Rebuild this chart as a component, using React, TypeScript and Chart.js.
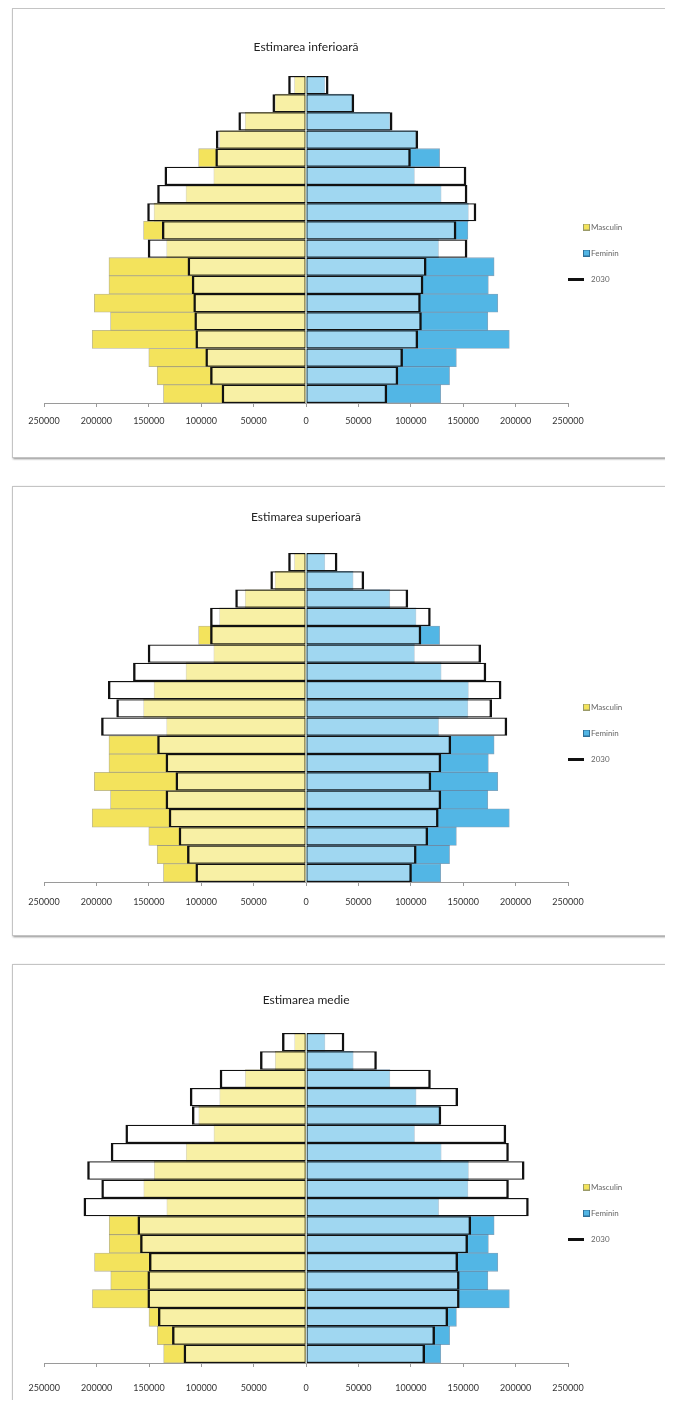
import React, { useEffect, useRef } from 'react';
import { Chart, registerables } from 'chart.js';

Chart.register(...registerables);

// ---------- DATA ----------
const AGE_GROUPS = ['85+', '80-84', '75-79', '70-74', '65-69', '60-64', '55-59', '50-54', '45-49', '40-44', '35-39', '30-34', '25-29', '20-24', '15-19', '10-14', '5-9', '0-4'];

const MASCULIN_BAZA = [11000, 29500, 58000, 82500, 102500, 88000, 114500, 145000, 155000, 133000, 188000, 188000, 202000, 186500, 204000, 150000, 142000, 136000];
const FEMININ_BAZA = [18000, 45000, 80000, 105000, 127500, 103500, 129000, 155000, 154500, 126500, 179500, 174000, 183000, 173500, 194000, 143500, 137000, 128500];

const MASCULIN_2030_INFERIOARA = [17000, 32000, 64500, 86000, 86500, 135000, 142000, 151500, 137500, 151000, 113000, 109000, 107500, 106500, 105500, 96000, 91500, 80500];
const FEMININ_2030_INFERIOARA = [21500, 46000, 82500, 107000, 100000, 153000, 154000, 162500, 143500, 154000, 115000, 112000, 109500, 110500, 107000, 92500, 88000, 77500];

const MASCULIN_2030_SUPERIOARA = [17000, 34000, 67500, 91500, 91500, 151000, 165000, 189000, 181000, 195500, 142000, 134000, 124500, 134000, 131000, 121500, 113500, 105500];
const FEMININ_2030_SUPERIOARA = [30000, 55500, 97500, 119000, 110000, 167000, 172000, 186500, 177500, 192000, 138500, 129000, 119500, 129000, 126500, 116500, 105500, 101000];

const MASCULIN_2030_MEDIE = [23000, 44000, 82500, 111000, 109000, 172500, 186500, 209000, 195500, 212500, 161000, 158500, 150000, 151500, 151500, 141500, 128000, 117000];
const FEMININ_2030_MEDIE = [36500, 67500, 119000, 145000, 129000, 191000, 193500, 208500, 193500, 212500, 157500, 154500, 145000, 146500, 146500, 135500, 123000, 113500];

const X_TICK_VALUES = [-250000, -200000, -150000, -100000, -50000, 0, 50000, 100000, 150000, 200000, 250000];
const LEGEND_LABELS = ['Masculin', 'Feminin', '2030'];

// ---------- STYLE / LAYOUT ----------
const FONT = 'Lato, "Open Sans", "DejaVu Sans", sans-serif';
const YELLOW = '#f3e35c';
const BLUE = '#52b6e5';
const CANVAS_W = 654;
const CANVAS_H = 448;
const PLOT_LEFT = 31;
const PLOT_RIGHT = 555;
const LEGEND_FONT = 8;
const LEGEND_PAD = 18;
const TICK_FONT = 9;
const TICK_LEN = 4;
const TITLE_FONT = 12;

const PANELS = [
  { title: 'Estimarea inferioară', male: MASCULIN_2030_INFERIOARA, female: FEMININ_2030_INFERIOARA, titleY: 38, plotTop: 67, plotBottom: 394, labelY: 412, legendY: 218, marginTop: 0 },
  { title: 'Estimarea superioară', male: MASCULIN_2030_SUPERIOARA, female: FEMININ_2030_SUPERIOARA, titleY: 30, plotTop: 66, plotBottom: 395, labelY: 415, legendY: 220, marginTop: 28 },
  { title: 'Estimarea medie', male: MASCULIN_2030_MEDIE, female: FEMININ_2030_MEDIE, titleY: 35, plotTop: 68, plotBottom: 398, labelY: 423, legendY: 222, marginTop: 28 },
];

function makeSwatch(fill: string, stroke: string): HTMLCanvasElement {
  const c = document.createElement('canvas');
  c.width = 7;
  c.height = 7;
  const ctx = c.getContext('2d')!;
  ctx.fillStyle = fill;
  ctx.fillRect(0, 0, 7, 7);
  ctx.strokeStyle = stroke;
  ctx.lineWidth = 1;
  ctx.strokeRect(0.5, 0.5, 6, 6);
  return c;
}

function makeLineSwatch(): HTMLCanvasElement {
  const c = document.createElement('canvas');
  c.width = 51;
  c.height = 3;
  const ctx = c.getContext('2d')!;
  ctx.fillStyle = '#111';
  ctx.fillRect(0, 0, 23, 3);
  return c;
}

type PanelCfg = typeof PANELS[number];

function Pyramid({ cfg }: { cfg: PanelCfg }) {
  const ref = useRef<HTMLCanvasElement>(null);

  useEffect(() => {
    const canvas = ref.current;
    if (!canvas) return;

    const m = document.createElement('canvas').getContext('2d')!;
    m.font = `normal ${LEGEND_FONT}px ${FONT}`;
    const textW = Math.max(...LEGEND_LABELS.map((t) => m.measureText(t).width));
    const legendW = LEGEND_PAD + 1 + LEGEND_FONT / 2 + textW + 10;
    const padRight = CANVAS_W - PLOT_RIGHT - legendW;

    const tickPad = cfg.labelY - cfg.plotBottom - TICK_LEN - (TICK_FONT * 1.2) / 2;
    const axisH = TICK_LEN + TICK_FONT * 1.2 + 2 * tickPad;
    const padBottom = CANVAS_H - cfg.plotBottom - axisH;

    const titleLH = TITLE_FONT * 1.2;
    const titlePadTop = cfg.titleY - titleLH / 2;
    const titlePadBottom = cfg.plotTop - cfg.titleY - titleLH / 2;

    const legendBottom = CANVAS_H - padBottom;
    const colH = 3 * (LEGEND_FONT + LEGEND_PAD);
    const T = 2 * (cfg.legendY - LEGEND_FONT / 2) - LEGEND_PAD - legendBottom + colH;
    const legTitlePad = Math.max(0, T - LEGEND_FONT * 1.2);

    const swM = makeSwatch(YELLOW, '#9a9a6a');
    const swF = makeSwatch(BLUE, '#2f6f98');
    const swL = makeLineSwatch();

    const chart = new Chart(canvas, {
      type: 'bar',
      data: {
        labels: AGE_GROUPS,
        datasets: [
          {
            label: 'Masculin',
            data: MASCULIN_BAZA.map((v) => -v),
            backgroundColor: YELLOW,
            borderColor: 'rgba(120,115,70,0.55)',
            borderWidth: 0.8,
            grouped: false,
            order: 1,
            categoryPercentage: 1,
            barPercentage: 1,
          } as any,
          {
            label: 'Feminin',
            data: FEMININ_BAZA,
            backgroundColor: BLUE,
            borderColor: 'rgba(40,90,130,0.55)',
            borderWidth: 0.8,
            grouped: false,
            order: 1,
            categoryPercentage: 1,
            barPercentage: 1,
          } as any,
          {
            label: '2030',
            data: cfg.male.map((v) => -v),
            backgroundColor: 'rgba(255,255,255,0.45)',
            borderColor: '#111',
            borderWidth: { left: 2.5, right: 1, top: 1.25, bottom: 1.25 },
            borderSkipped: false,
            inflateAmount: 0,
            grouped: false,
            order: 0,
            categoryPercentage: 1,
            barPercentage: 1,
          } as any,
          {
            label: '2030 ',
            data: cfg.female,
            backgroundColor: 'rgba(255,255,255,0.45)',
            borderColor: '#111',
            borderWidth: { left: 1, right: 2.5, top: 1.25, bottom: 1.25 },
            borderSkipped: false,
            inflateAmount: 0,
            grouped: false,
            order: 0,
            categoryPercentage: 1,
            barPercentage: 1,
          } as any,
        ],
      },
      options: {
        indexAxis: 'y',
        responsive: false,
        animation: false,
        events: [],
        layout: { padding: { left: PLOT_LEFT, right: padRight, top: 0, bottom: padBottom } },
        scales: {
          x: {
            type: 'linear',
            min: -250000,
            max: 250000,
            afterBuildTicks: (scale: any) => {
              scale.ticks = X_TICK_VALUES.map((v) => ({ value: v }));
            },
            ticks: {
              callback: (v: any) => String(Math.abs(Number(v))),
              font: { family: FONT, size: TICK_FONT },
              color: '#333',
              padding: tickPad,
              maxRotation: 0,
              minRotation: 0,
              autoSkip: false,
            },
            grid: { display: true, drawOnChartArea: false, drawTicks: true, tickLength: TICK_LEN, color: '#9a9a9a' },
            border: { display: true, color: '#9a9a9a', width: 1 },
          },
          y: { display: false },
        },
        plugins: {
          title: {
            display: true,
            text: cfg.title,
            fullSize: false,
            color: '#222',
            font: { family: FONT, size: TITLE_FONT, weight: 'normal' },
            padding: { top: titlePadTop, bottom: titlePadBottom },
          },
          legend: {
            display: true,
            position: 'right',
            align: 'center',
            fullSize: true,
            title: { display: true, text: '', padding: { top: legTitlePad, bottom: 0 }, font: { size: LEGEND_FONT } },
            labels: {
              usePointStyle: true,
              boxWidth: 1,
              boxHeight: LEGEND_FONT,
              padding: LEGEND_PAD,
              color: '#333',
              font: { family: FONT, size: LEGEND_FONT },
              generateLabels: () => [
                { text: LEGEND_LABELS[0], pointStyle: swM, fillStyle: YELLOW, strokeStyle: '#999', lineWidth: 0, hidden: false, datasetIndex: 0 },
                { text: LEGEND_LABELS[1], pointStyle: swF, fillStyle: BLUE, strokeStyle: '#333', lineWidth: 0, hidden: false, datasetIndex: 1 },
                { text: LEGEND_LABELS[2], pointStyle: swL, fillStyle: '#111', strokeStyle: '#111', lineWidth: 0, hidden: false, datasetIndex: 2 },
              ] as any,
            },
          },
          tooltip: { enabled: false },
        },
      } as any,
    });

    return () => chart.destroy();
  }, [cfg]);

  return (
    <div
      style={{
        marginTop: cfg.marginTop,
        marginLeft: 4,
        width: CANVAS_W,
        height: CANVAS_H,
        border: '1px solid #c4c4c4',
        boxShadow: '1px 1px 2px rgba(0,0,0,0.45)',
        background: '#fff',
      }}
    >
      <canvas ref={ref} width={CANVAS_W} height={CANVAS_H} style={{ display: 'block', width: CANVAS_W, height: CANVAS_H }} />
    </div>
  );
}

export default function App() {
  return (
    <div style={{ background: '#fff', height: 1392, overflow: 'hidden' }}>
      {PANELS.map((p) => (
        <Pyramid key={p.title} cfg={p} />
      ))}
    </div>
  );
}
